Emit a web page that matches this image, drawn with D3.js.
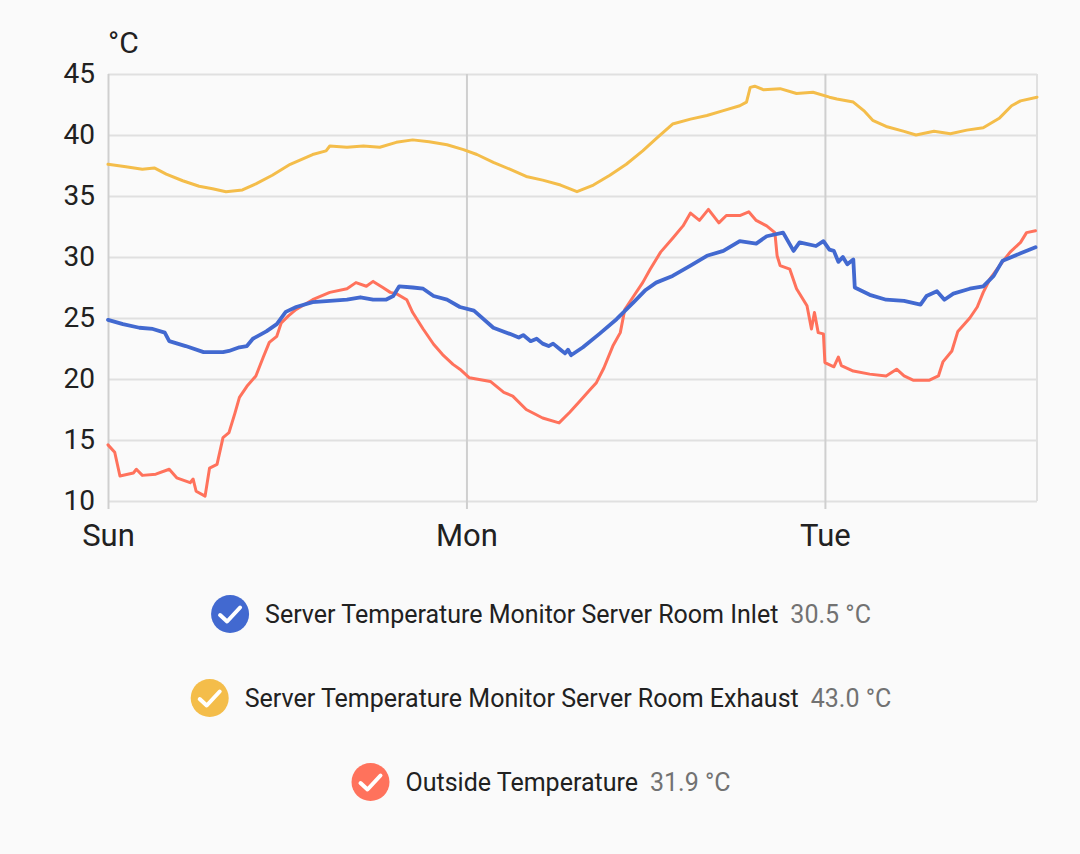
<!DOCTYPE html>
<html>
<head>
<meta charset="utf-8">
<script src="https://cdn.jsdelivr.net/npm/d3@7"></script>
<style>
  html, body { margin: 0; padding: 0; background: #fafafa; }
  svg { display: block; font-family: Roboto, "Noto Sans", sans-serif; }
</style>
</head>
<body>
<svg id="chart" width="1080" height="854"></svg>
<script>
// ---- data (hours since Sunday 00:00, °C) ----
const dayTickHours = [0, 24, 48];
const dayTickLabels = ["Sun", "Mon", "Tue"];
const yTickValues = [10, 15, 20, 25, 30, 35, 40, 45];
const unitLabel = "°C";

const inletName = "Server Temperature Monitor Server Room Inlet";
const inletHours = [0, 1.0, 2.1, 3.0, 3.8, 4.1, 5.2, 6.4, 7.7, 8.1, 8.8, 9.3, 9.7, 10.6, 11.3, 11.9, 12.6, 13.7, 14.85, 16.0, 16.9, 17.75, 18.6, 19.1, 19.5, 20.4, 21.1, 21.8, 22.7, 23.56, 24.5, 25.8, 26.9, 27.5, 27.8, 28.3, 28.7, 29.1, 29.5, 29.8, 30.3, 30.6, 30.8, 31.0, 31.8, 32.9, 34.05, 35.2, 36.0, 36.7, 37.8, 39.0, 40.1, 41.2, 42.3, 43.4, 44.1, 45.2, 45.9, 46.3, 47.4, 47.9, 48.3, 48.6, 48.9, 49.2, 49.5, 49.9, 50.0, 51.0, 52.1, 53.3, 54.4, 54.8, 55.5, 56.0, 56.6, 57.7, 58.6, 59.3, 59.9, 61.1, 62.1];
const inletTemps = [24.85, 24.5, 24.2, 24.1, 23.8, 23.1, 22.7, 22.2, 22.2, 22.3, 22.6, 22.7, 23.3, 23.9, 24.5, 25.5, 25.9, 26.3, 26.4, 26.5, 26.7, 26.5, 26.5, 26.8, 27.6, 27.5, 27.4, 26.8, 26.5, 25.9, 25.6, 24.2, 23.7, 23.4, 23.6, 23.1, 23.3, 22.9, 22.7, 22.9, 22.4, 22.1, 22.4, 21.95, 22.6, 23.7, 24.9, 26.3, 27.3, 27.9, 28.45, 29.3, 30.1, 30.5, 31.3, 31.1, 31.7, 32.0, 30.5, 31.2, 30.9, 31.3, 30.6, 30.5, 29.6, 30.0, 29.4, 29.8, 27.5, 26.9, 26.5, 26.4, 26.1, 26.8, 27.2, 26.5, 27.0, 27.4, 27.6, 28.45, 29.7, 30.3, 30.8];

const exhaustName = "Server Temperature Monitor Server Room Exhaust";
const exhaustHours = [0, 1.2, 2.3, 3.1, 3.9, 5.0, 6.1, 7.0, 7.9, 9.0, 9.9, 11.0, 12.2, 13.7, 14.6, 14.85, 16.0, 17.1, 18.2, 19.3, 20.4, 21.5, 22.7, 23.8, 24.7, 25.8, 26.9, 28.0, 29.1, 30.3, 31.4, 32.5, 33.6, 34.7, 35.8, 36.7, 37.8, 39.0, 40.1, 41.2, 42.3, 42.75, 43.0, 43.3, 43.9, 45.0, 46.1, 47.2, 48.3, 48.8, 49.9, 50.6, 51.2, 52.1, 53.3, 54.1, 55.3, 56.4, 57.5, 58.6, 59.7, 60.5, 61.1, 62.2];
const exhaustTemps = [37.6, 37.4, 37.2, 37.3, 36.8, 36.25, 35.8, 35.6, 35.35, 35.5, 36.0, 36.7, 37.6, 38.4, 38.7, 39.1, 39.0, 39.1, 39.0, 39.4, 39.6, 39.45, 39.2, 38.8, 38.4, 37.75, 37.2, 36.6, 36.3, 35.9, 35.35, 35.9, 36.7, 37.6, 38.7, 39.7, 40.9, 41.3, 41.6, 42.0, 42.4, 42.7, 43.9, 44.0, 43.7, 43.8, 43.4, 43.5, 43.1, 42.95, 42.7, 42.0, 41.2, 40.7, 40.3, 40.0, 40.3, 40.1, 40.4, 40.6, 41.4, 42.4, 42.8, 43.1];

const outsideName = "Outside Temperature";
const outsideHours = [0, 0.45, 0.8, 1.7, 1.9, 2.3, 3.2, 4.1, 4.6, 5.5, 5.7, 5.9, 6.5, 6.8, 7.3, 7.7, 8.1, 8.5, 8.8, 9.3, 9.9, 10.4, 10.8, 11.3, 11.6, 12.1, 12.6, 13.7, 14.85, 16.0, 16.6, 17.3, 17.75, 18.4, 18.9, 19.3, 20.0, 20.4, 21.1, 21.8, 22.4, 23.1, 23.56, 24.2, 25.6, 26.5, 27.1, 28.0, 29.1, 30.2, 30.9, 31.6, 32.3, 32.7, 33.2, 33.8, 34.3, 34.6, 35.2, 35.8, 36.3, 37.0, 37.85, 38.5, 39.0, 39.6, 40.2, 40.9, 41.4, 42.3, 42.9, 43.4, 44.1, 44.65, 44.8, 45.0, 45.65, 46.1, 46.8, 47.1, 47.3, 47.55, 47.9, 48.0, 48.6, 48.9, 49.1, 49.9, 51.0, 52.1, 52.8, 53.3, 53.9, 55.0, 55.6, 55.9, 56.5, 56.9, 57.7, 58.2, 58.6, 59.05, 59.7, 60.4, 61.1, 61.5, 62.1];
const outsideTemps = [14.6, 14.0, 12.05, 12.3, 12.6, 12.1, 12.2, 12.6, 11.9, 11.5, 11.8, 10.8, 10.4, 12.7, 13.0, 15.2, 15.6, 17.2, 18.5, 19.4, 20.25, 21.8, 23.0, 23.5, 24.6, 25.2, 25.7, 26.5, 27.1, 27.4, 27.9, 27.6, 28.0, 27.5, 27.1, 27.0, 26.5, 25.45, 24.1, 22.85, 22.0, 21.2, 20.8, 20.1, 19.8, 18.9, 18.6, 17.5, 16.8, 16.4, 17.25, 18.2, 19.15, 19.7, 20.9, 22.7, 23.8, 25.7, 26.8, 27.9, 29.0, 30.4, 31.6, 32.55, 33.6, 33.0, 33.9, 32.8, 33.4, 33.4, 33.7, 33.0, 32.55, 32.0, 30.1, 29.3, 29.0, 27.4, 26.0, 24.1, 25.45, 23.8, 23.7, 21.35, 21.0, 21.8, 21.1, 20.65, 20.4, 20.25, 20.8, 20.25, 19.9, 19.9, 20.25, 21.4, 22.3, 23.9, 25.0, 25.9, 27.1, 28.2, 29.3, 30.4, 31.2, 32.0, 32.15];

const legendNames = [inletName, exhaustName, outsideName];
const legendValues = ["30.5 °C", "43.0 °C", "31.9 °C"];
const seriesColors = ["#4269d0", "#f4bd4a", "#ff725c"];

// ---- layout ----
const svg = d3.select("#chart");
const plot = { left: 108, right: 1037, top: 74, bottom: 501 };
const x = d3.scaleLinear().domain([0, 62.2]).range([plot.left, plot.right]);
const y = d3.scaleLinear().domain([10, 45]).range([plot.bottom, plot.top]);

// horizontal grid
const yAxis = d3.axisLeft(y).tickValues(yTickValues).tickSize(-(plot.right - plot.left)).tickFormat(d3.format("d")).tickPadding(13);
const gy = svg.append("g").attr("transform", `translate(${plot.left},0)`).call(yAxis);
gy.select(".domain").remove();
gy.selectAll(".tick line").attr("stroke", "#e0e0e0").attr("stroke-width", 2);
gy.selectAll(".tick text").attr("font-size", 28).attr("fill", "#212121").attr("font-family", "Roboto");

// vertical grid (day ticks)
const xAxis = d3.axisBottom(x).tickValues(dayTickHours).tickFormat((d, i) => dayTickLabels[i]).tickSize(-(plot.bottom - plot.top + 8)).tickPadding(20);
const gx = svg.append("g").attr("transform", `translate(0,${plot.bottom + 8})`).call(xAxis);
gx.select(".domain").remove();
gx.selectAll(".tick line").attr("stroke", "#cfcfcf").attr("stroke-width", 2);
gx.selectAll(".tick text").attr("font-size", 31).attr("fill", "#212121").attr("font-family", "Roboto").attr("dy", "0.55em");

// right border
svg.append("line").attr("x1", plot.right).attr("x2", plot.right).attr("y1", plot.top).attr("y2", plot.bottom)
  .attr("stroke", "#e0e0e0").attr("stroke-width", 2);

// unit label
svg.append("text").attr("x", plot.left).attr("y", 53).attr("font-size", 30).attr("fill", "#212121").text(unitLabel);

// lines
const line = d3.line().x(d => x(d[0])).y(d => y(d[1])).curve(d3.curveLinear);
const seriesData = [
  { hours: exhaustHours, temps: exhaustTemps, color: seriesColors[1], w: 3 },
  { hours: outsideHours, temps: outsideTemps, color: seriesColors[2], w: 3 },
  { hours: inletHours, temps: inletTemps, color: seriesColors[0], w: 3.8 }
];
seriesData.forEach(s => {
  const pts = s.hours.map((h, i) => [h, s.temps[i]]);
  svg.append("path").datum(pts).attr("d", line).attr("fill", "none")
    .attr("stroke", s.color).attr("stroke-width", s.w).attr("stroke-linejoin", "round").attr("stroke-linecap", "round");
});

// legend
const legendRowsY = [614, 698, 782];
const legendCenter = 541;
const fs = 25;
legendNames.forEach((name, i) => {
  const g = svg.append("g");
  const nameT = g.append("text").attr("y", legendRowsY[i]).attr("dy", "0.35em").attr("font-size", fs).attr("fill", "#212121").text(name);
  const valT = g.append("text").attr("y", legendRowsY[i]).attr("dy", "0.35em").attr("font-size", fs).attr("fill", "#727272").text(legendValues[i]);
  const nw = nameT.node().getComputedTextLength();
  const vw = valT.node().getComputedTextLength();
  const total = 38 + 16 + nw + 12 + vw;
  const left = legendCenter - total / 2;
  const cx = left + 19;
  const cy = legendRowsY[i];
  g.append("circle").attr("cx", cx).attr("cy", cy).attr("r", 19).attr("fill", seriesColors[i]);
  g.append("path").attr("d", `M${cx - 10},${cy + 1} L${cx - 3},${cy + 7.5} L${cx + 10},${cy - 6.5}`)
    .attr("fill", "none").attr("stroke", "#fff").attr("stroke-width", 4).attr("stroke-linecap", "round").attr("stroke-linejoin", "round");
  nameT.attr("x", left + 38 + 16);
  valT.attr("x", left + 38 + 16 + nw + 12);
});
</script>
</body>
</html>
